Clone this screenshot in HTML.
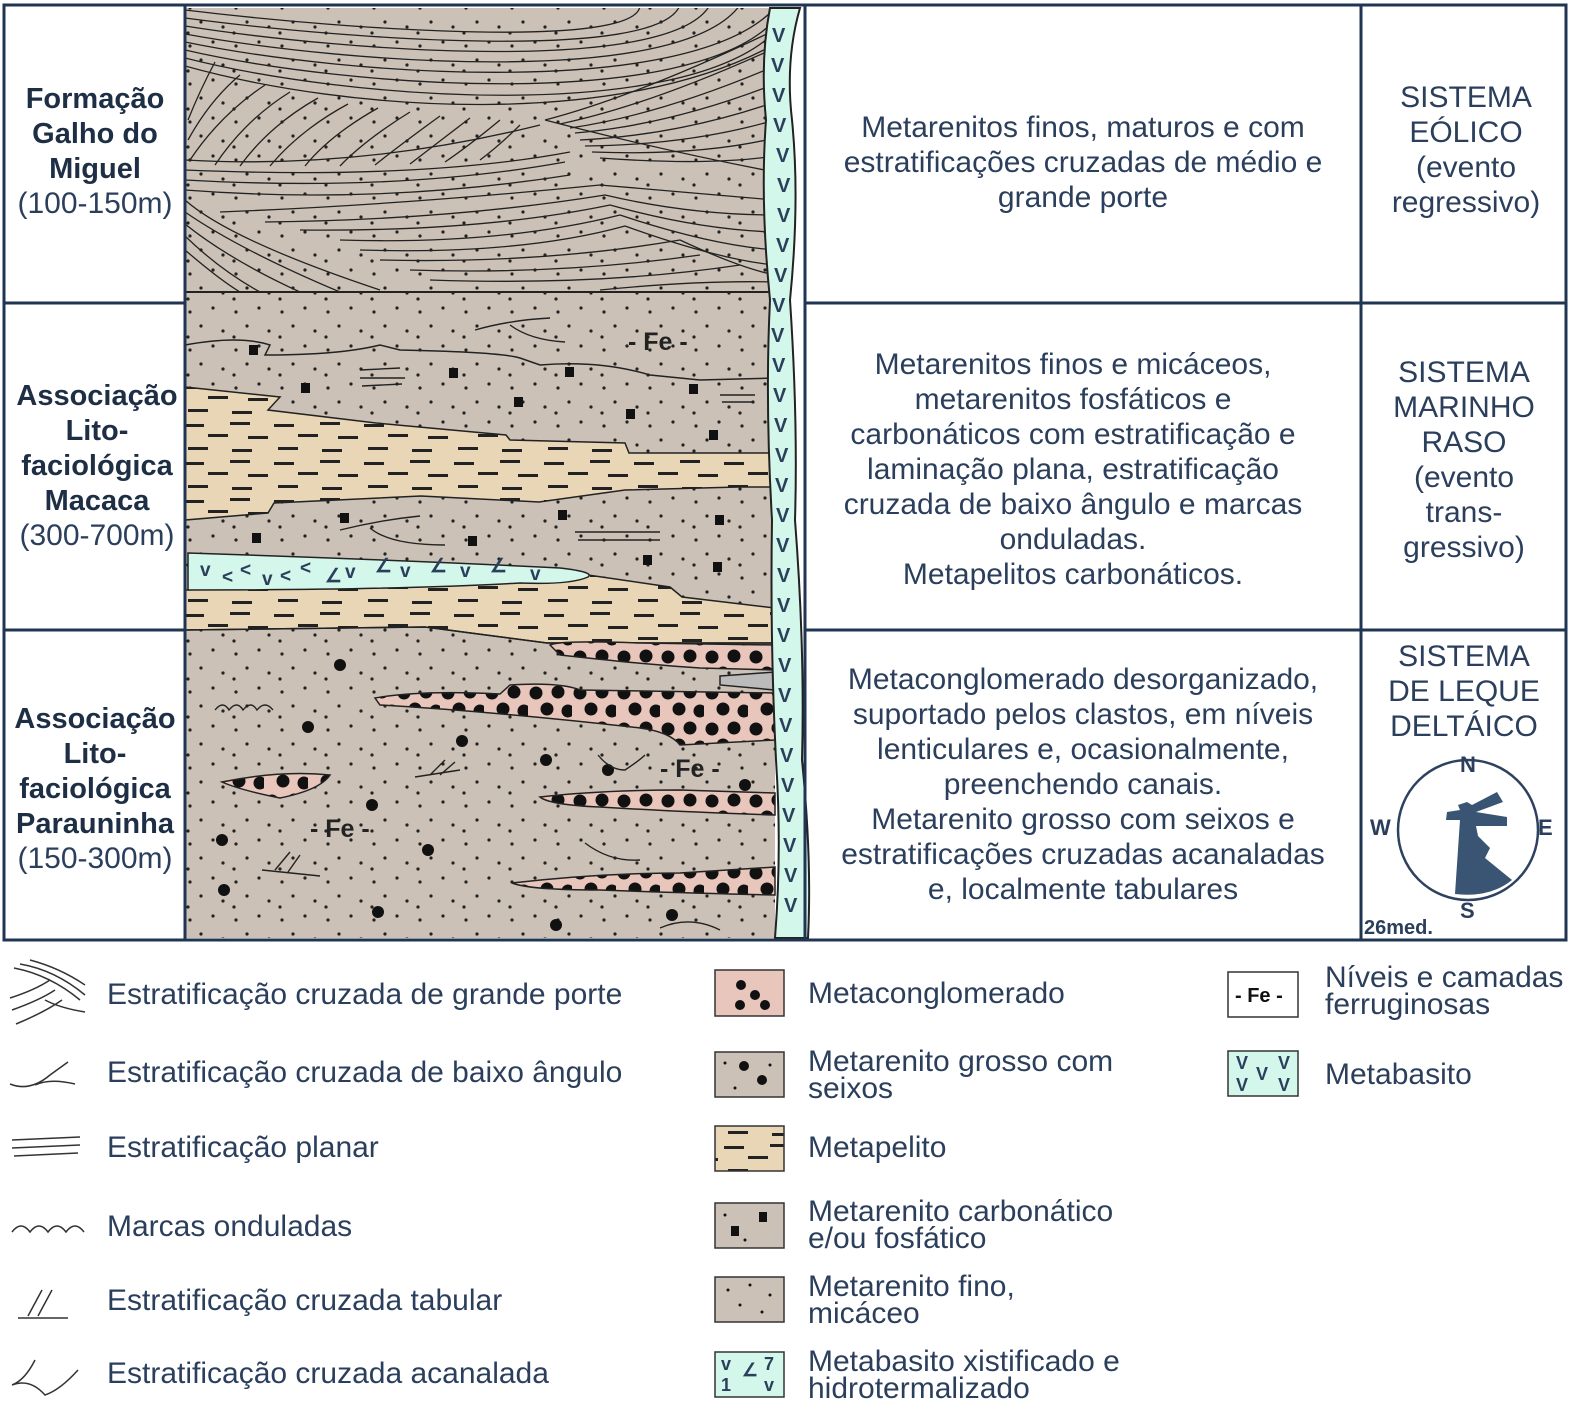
<!DOCTYPE html>
<html><head><meta charset="utf-8"><style>
html,body{margin:0;padding:0;background:#fff;}
svg{display:block;}
text{font-family:"Liberation Sans",Arial,sans-serif;fill:#2b3f5c;}
.b{font-weight:bold;fill:#1e2f45;}
</style></head><body>
<svg width="1573" height="1419" viewBox="0 0 1573 1419" xmlns="http://www.w3.org/2000/svg">
<defs>
<pattern id="sand" width="46" height="38" patternUnits="userSpaceOnUse">
<rect width="46" height="38" fill="#cbc1b6"/>
<circle cx="6" cy="8" r="1.6" fill="#222"/><circle cx="29" cy="4" r="1.6" fill="#222"/><circle cx="17" cy="22" r="1.6" fill="#222"/><circle cx="39" cy="27" r="1.6" fill="#222"/><circle cx="4" cy="33" r="1.6" fill="#222"/>
</pattern>
<pattern id="pel" width="90" height="38" patternUnits="userSpaceOnUse">
<rect width="90" height="38" fill="#e9d6b7"/>
<rect x="4" y="6" width="20" height="3" fill="#222"/><rect x="50" y="4" width="20" height="3" fill="#222"/><rect x="28" y="16" width="20" height="3" fill="#222"/><rect x="68" y="18" width="20" height="3" fill="#222"/><rect x="8" y="29" width="20" height="3" fill="#222"/><rect x="52" y="31" width="20" height="3" fill="#222"/>
</pattern>
<pattern id="cong" width="44" height="36" patternUnits="userSpaceOnUse">
<rect width="44" height="36" fill="#e9c6bb"/>
<circle cx="8" cy="9" r="6.5" fill="#111"/><circle cx="30" cy="8" r="6.5" fill="#111"/><circle cx="19" cy="25" r="6.5" fill="#111"/><circle cx="40" cy="27" r="6.5" fill="#111"/>
</pattern>
<clipPath id="topclip"><rect x="185" y="8" width="590" height="284"/></clipPath>
</defs>

<!-- top section cross-bedding -->
<rect x="185" y="8" width="590" height="284" fill="url(#sand)"/>
<g fill="none" stroke="#222" stroke-width="1.3" clip-path="url(#topclip)">
<path d="M185 10 C350 30 640 50 640 5"/><path d="M185 18 C350 40 660 62 680 5"/><path d="M185 26 C350 52 670 75 710 5"/><path d="M185 34 C350 64 680 88 740 5"/><path d="M185 42 C350 76 690 100 775 8"/><path d="M185 50 C350 88 690 112 775 20"/><path d="M185 58 C350 100 680 124 775 32"/><path d="M185 66 C350 112 620 130 775 44"/>
<path d="M188 120 Q200 90 215 62"/><path d="M188 140 Q210 100 240 75"/><path d="M190 160 Q220 115 265 85"/><path d="M215 165 Q245 120 290 92"/><path d="M240 166 Q270 125 318 98"/><path d="M270 166 Q300 130 348 104"/><path d="M305 166 Q330 135 378 108"/><path d="M340 166 Q365 140 410 112"/><path d="M375 165 Q400 145 440 116"/><path d="M410 164 Q435 145 470 118"/><path d="M445 162 Q470 145 500 120"/><path d="M480 160 Q500 145 520 125"/>
<path d="M185 160 Q360 170 540 125"/>
<path d="M545 120 Q640 95 775 30"/><path d="M560 124 Q650 105 775 48"/><path d="M570 128 Q660 115 775 66"/><path d="M575 133 Q670 125 775 84"/><path d="M580 140 Q680 135 775 102"/><path d="M585 146 Q690 145 775 120"/><path d="M592 152 Q700 156 775 138"/><path d="M600 158 Q710 166 775 156"/><path d="M545 120 Q660 150 775 172"/>
<path d="M185 170 Q420 180 570 152"/><path d="M185 180 Q400 192 565 162"/><path d="M185 190 Q380 205 570 175"/>
<path d="M185 200 Q230 240 380 290"/><path d="M185 212 Q240 250 340 292"/><path d="M185 224 Q230 260 300 292"/><path d="M185 236 Q220 270 260 292"/><path d="M185 250 Q220 280 240 292"/>
<path d="M220 212 Q400 205 600 185 L775 200"/><path d="M265 222 Q450 220 605 195 Q690 215 775 215"/><path d="M300 230 Q480 232 610 205 Q700 230 775 232"/><path d="M340 240 Q500 245 620 215 Q710 245 775 250"/><path d="M360 250 Q520 255 625 226 Q720 260 775 265"/><path d="M380 260 Q540 264 680 240 Q740 268 775 275"/><path d="M410 270 Q560 275 700 255"/><path d="M430 280 Q600 286 740 265"/><path d="M600 290 Q700 280 775 282"/>
</g>
<line x1="185" y1="292" x2="775" y2="292" stroke="#222" stroke-width="2"/>

<!-- bottom section base -->
<rect x="185" y="625" width="590" height="313" fill="url(#sand)"/>
<!-- middle section -->
<rect x="185" y="293" width="590" height="345" fill="url(#sand)"/>
<path d="M185 387 L280 397 L268 410 L376 423 L506 435 L510 440 L625 443 L629 453 L775 453 L775 487 L739 487 L625 490 L539 502 L421 496 L274 503 L268 513 L185 520 Z" fill="url(#pel)" stroke="#222" stroke-width="1.5"/>
<path d="M185 590 L425 583 L588 575 L670 587 L682 597 L775 608 L775 643 L547 643 L425 627 L185 630 Z" fill="url(#pel)" stroke="#222" stroke-width="1.5"/>
<path d="M188 553 Q400 560 560 568 Q595 572 588 577 Q570 585 520 583 Q400 590 188 590 Z" fill="#d3f7ea" stroke="#222" stroke-width="1.5"/>
<g font-size="19" font-weight="bold" style="fill:#111"><text x="200" y="576">v</text><text x="222" y="583">&lt;</text><text x="240" y="576">&lt;</text><text x="262" y="585">v</text><text x="280" y="582">&lt;</text><text x="300" y="574">&lt;</text><text x="325" y="582">∠</text><text x="345" y="578">v</text><text x="375" y="572">∠</text><text x="400" y="577">v</text><text x="430" y="572">∠</text><text x="460" y="577">v</text><text x="490" y="572">∠</text><text x="530" y="580">v</text></g>
<path d="M185 345 Q240 335 270 345 L265 355 Q340 355 380 345 L400 350 Q500 352 520 358 L540 365 Q600 360 650 375 L700 380 L775 378" fill="none" stroke="#222" stroke-width="1.5"/>
<g fill="#111"><rect x="249" y="345" width="9" height="10"/><rect x="301" y="383" width="9" height="10"/><rect x="449" y="368" width="9" height="10"/><rect x="565" y="367" width="9" height="10"/><rect x="689" y="384" width="9" height="10"/><rect x="514" y="397" width="9" height="10"/><rect x="626" y="409" width="9" height="10"/><rect x="709" y="430" width="9" height="10"/><rect x="340" y="513" width="9" height="10"/><rect x="558" y="510" width="9" height="10"/><rect x="715" y="515" width="9" height="10"/><rect x="252" y="533" width="9" height="10"/><rect x="468" y="536" width="9" height="10"/><rect x="643" y="555" width="9" height="10"/><rect x="713" y="562" width="9" height="10"/></g>
<g fill="none" stroke="#222" stroke-width="1.4"><path d="M360 370 L400 368 M360 378 L405 378 M362 386 L402 384"/><path d="M720 395 L755 395 M722 402 L752 402"/><path d="M575 532 L660 532 M578 540 L660 540"/><path d="M340 530 Q380 520 420 516 M370 528 Q390 545 445 545"/><path d="M475 330 Q510 320 550 318 M510 325 Q530 340 565 342"/></g>
<text x="628" y="350" font-size="25" font-weight="bold" style="fill:#222">- Fe -</text>

<!-- bottom section -->
<path d="M185 630 L425 627 L547 643 L775 643" fill="none" stroke="#222" stroke-width="1.5"/>
<g stroke="#222" stroke-width="1.5">
<path d="M550 645 Q560 640 640 643 L775 645 L775 670 L700 668 Q650 665 560 655 Z" fill="url(#cong)"/>
<path d="M720 676 L775 672 L775 690 L720 685 Z" fill="#bbb"/>
<path d="M375 698 Q420 690 500 694 L510 685 Q560 682 580 690 L775 693 L775 740 L680 745 Q670 732 640 728 Q500 712 380 705 Z" fill="url(#cong)"/>
<path d="M222 782 Q280 770 330 775 Q320 790 280 798 Q240 790 222 782 Z" fill="url(#cong)"/>
<path d="M540 797 Q600 790 680 790 L775 793 L775 815 Q680 812 600 807 Q550 805 540 797 Z" fill="url(#cong)"/>
<path d="M512 883 Q600 873 680 873 L775 867 L775 895 Q680 893 600 890 Q530 890 512 883 Z" fill="url(#cong)"/>
</g>
<g fill="#111"><circle cx="340" cy="665" r="6"/><circle cx="308" cy="727" r="6"/><circle cx="462" cy="741" r="6"/><circle cx="546" cy="760" r="6"/><circle cx="372" cy="805" r="6"/><circle cx="222" cy="840" r="6"/><circle cx="428" cy="850" r="6"/><circle cx="224" cy="890" r="6"/><circle cx="378" cy="912" r="6"/><circle cx="556" cy="925" r="6"/><circle cx="672" cy="915" r="6"/><circle cx="608" cy="770" r="6"/><circle cx="745" cy="785" r="6"/></g>
<g fill="none" stroke="#222" stroke-width="1.4"><path d="M215 710 q8 -10 14 0 q8 -10 14 0 q8 -10 14 0 q8 -10 16 0"/><path d="M415 777 L460 770 M430 775 L445 760 M440 775 L455 762"/><path d="M262 870 L320 876 M275 870 L290 852 M288 872 L300 855"/><path d="M598 755 Q610 770 625 770 Q640 760 645 755"/><path d="M585 843 Q610 862 640 860"/><path d="M660 928 Q690 915 720 930"/></g>
<text x="310" y="837" font-size="25" font-weight="bold" style="fill:#222">- Fe -</text>
<text x="660" y="777" font-size="25" font-weight="bold" style="fill:#222">- Fe -</text>

<!-- metabasite strip -->
<path d="M770 8 L800 8 Q785 60 792 120 Q800 200 790 300 Q798 420 795 520 Q805 650 802 760 Q812 860 808 938 L775 938 Q782 850 776 760 Q770 640 772 520 Q765 400 770 300 Q760 200 766 120 Q760 60 770 8 Z" fill="#d3f7ea" stroke="#222" stroke-width="2"/>
<g font-size="20" font-weight="bold" style="fill:#111">
<text x="772" y="42">V</text><text x="771" y="72">V</text><text x="772" y="102">V</text><text x="773" y="132">V</text><text x="776" y="162">V</text><text x="777" y="192">V</text><text x="777" y="222">V</text><text x="776" y="252">V</text><text x="774" y="282">V</text><text x="772" y="312">V</text><text x="771" y="342">V</text><text x="772" y="372">V</text><text x="773" y="402">V</text><text x="774" y="432">V</text><text x="775" y="462">V</text><text x="775" y="492">V</text><text x="776" y="522">V</text><text x="776" y="552">V</text><text x="777" y="582">V</text><text x="777" y="612">V</text><text x="777" y="642">V</text><text x="778" y="672">V</text><text x="778" y="702">V</text><text x="779" y="732">V</text><text x="780" y="762">V</text><text x="781" y="792">V</text><text x="782" y="822">V</text><text x="783" y="852">V</text><text x="784" y="882">V</text><text x="784" y="912">V</text>
</g>

<!-- grid -->
<g stroke="#1f3552" stroke-width="3" fill="none">
<rect x="4" y="5" width="1562" height="935"/>
<line x1="185" y1="5" x2="185" y2="940"/>
<line x1="805" y1="5" x2="805" y2="940"/>
<line x1="1361" y1="5" x2="1361" y2="940"/>
<line x1="4" y1="303" x2="185" y2="303"/><line x1="805" y1="303" x2="1566" y2="303"/>
<line x1="4" y1="630" x2="185" y2="630"/><line x1="805" y1="630" x2="1566" y2="630"/>
</g>

<!-- left labels -->
<g font-size="29" text-anchor="middle">
<text x="95" y="108" class="b">Formação</text><text x="95" y="143" class="b">Galho do</text><text x="95" y="178" class="b">Miguel</text><text x="95" y="213" font-size="30">(100-150m)</text>
<text x="97" y="405" class="b">Associação</text><text x="97" y="440" class="b">Lito-</text><text x="97" y="475" class="b">faciológica</text><text x="97" y="510" class="b">Macaca</text><text x="97" y="545" font-size="30">(300-700m)</text>
<text x="95" y="728" class="b">Associação</text><text x="95" y="763" class="b">Lito-</text><text x="95" y="798" class="b">faciológica</text><text x="95" y="833" class="b">Parauninha</text><text x="95" y="868" font-size="30">(150-300m)</text>
</g>
<!-- description -->
<g font-size="30" text-anchor="middle">
<text x="1083" y="137">Metarenitos finos, maturos e com</text><text x="1083" y="172">estratificações cruzadas de médio e</text><text x="1083" y="207">grande porte</text>
<text x="1073" y="374">Metarenitos  finos e micáceos,</text><text x="1073" y="409">metarenitos fosfáticos e</text><text x="1073" y="444">carbonáticos com estratificação e</text><text x="1073" y="479">laminação plana, estratificação</text><text x="1073" y="514">cruzada de baixo ângulo e marcas</text><text x="1073" y="549">onduladas.</text><text x="1073" y="584">Metapelitos carbonáticos.</text>
<text x="1083" y="689">Metaconglomerado desorganizado,</text><text x="1083" y="724">suportado pelos clastos, em níveis</text><text x="1083" y="759">lenticulares e, ocasionalmente,</text><text x="1083" y="794">preenchendo canais.</text><text x="1083" y="829">Metarenito grosso com seixos e</text><text x="1083" y="864">estratificações cruzadas acanaladas</text><text x="1083" y="899">e, localmente tabulares</text>
</g>
<g font-size="30" text-anchor="middle">
<text x="1466" y="107">SISTEMA</text><text x="1466" y="142">EÓLICO</text><text x="1466" y="177">(evento</text><text x="1466" y="212">regressivo)</text>
<text x="1464" y="382">SISTEMA</text><text x="1464" y="417">MARINHO</text><text x="1464" y="452">RASO</text><text x="1464" y="487">(evento</text><text x="1464" y="522">trans-</text><text x="1464" y="557">gressivo)</text>
<text x="1464" y="666">SISTEMA</text><text x="1464" y="701">DE LEQUE</text><text x="1464" y="736">DELTÁICO</text>
</g>
<!-- rose -->
<circle cx="1468" cy="830" r="70" fill="#fff" stroke="#2e4260" stroke-width="2.5"/>
<path d="M1455 894 L1460 820 L1446 820 L1447 812 L1460 810 L1458 805 L1467 802 L1472 805 L1497 792 L1503 802 L1476 812 L1507 817 L1507 826 L1476 826 L1478 836 L1490 848 L1485 858 L1512 880 Q1490 898 1455 894 Z" fill="#3a5573"/>
<g font-size="22" font-weight="bold"><text x="1460" y="772">N</text><text x="1370" y="835">W</text><text x="1538" y="835">E</text><text x="1460" y="918">S</text><text x="1364" y="934" font-size="20">26med.</text></g>

<!-- legend left -->
<g fill="none" stroke="#333" stroke-width="1.5">
<path d="M14 968 Q50 975 80 1000 M20 964 Q55 970 85 995 M30 960 Q60 968 85 985"/><path d="M10 998 Q35 990 50 980 M12 1010 Q40 1000 55 990 M16 1024 Q45 1012 62 1000 M45 1000 Q60 1008 85 1012"/>
<path d="M10 1084 Q30 1092 50 1075 L68 1062 M35 1085 Q50 1078 75 1084"/>
<path d="M12 1140 L80 1137 M12 1148 L80 1145 M14 1156 L78 1153"/>
<path d="M12 1232 q9 -12 18 0 q9 -12 18 0 q9 -12 18 0 q9 -12 18 0"/>
<path d="M18 1318 L68 1318 M28 1316 L42 1290 M38 1316 L52 1290"/>
<path d="M35 1360 Q25 1380 12 1385 Q30 1378 45 1395 Q60 1390 78 1370"/>
</g>
<g font-size="30">
<text x="107" y="1004">Estratificação cruzada de grande porte</text>
<text x="107" y="1082">Estratificação cruzada de baixo ângulo</text>
<text x="107" y="1157">Estratificação planar</text>
<text x="107" y="1236">Marcas onduladas</text>
<text x="107" y="1310">Estratificação cruzada tabular</text>
<text x="107" y="1383">Estratificação cruzada acanalada</text>
</g>
<!-- legend middle -->
<g stroke="#333" stroke-width="1.5">
<rect x="715" y="970" width="69" height="46" fill="#e9c6bb"/>
<rect x="715" y="1052" width="69" height="45" fill="#cbc1b6"/>
<rect x="715" y="1126" width="69" height="45" fill="url(#pel)"/>
<rect x="715" y="1203" width="69" height="45" fill="#cbc1b6"/>
<rect x="715" y="1277" width="69" height="45" fill="#cbc1b6"/>
<rect x="715" y="1352" width="69" height="45" fill="#d3f7ea"/>
</g>
<g fill="#111"><circle cx="741" cy="985" r="5"/><circle cx="755" cy="995" r="5"/><circle cx="740" cy="1005" r="5"/><circle cx="765" cy="1005" r="5"/><circle cx="744" cy="1066" r="5"/><circle cx="762" cy="1080" r="5"/><rect x="759" y="1212" width="8" height="10"/><rect x="731" y="1226" width="8" height="10"/>
<circle cx="728" cy="1290" r="1.5"/><circle cx="750" cy="1285" r="1.5"/><circle cx="770" cy="1295" r="1.5"/><circle cx="740" cy="1305" r="1.5"/><circle cx="762" cy="1312" r="1.5"/><circle cx="725" cy="1063" r="1.5"/><circle cx="770" cy="1065" r="1.5"/><circle cx="735" cy="1088" r="1.5"/><circle cx="725" cy="1215" r="1.5"/><circle cx="745" cy="1240" r="1.5"/></g>
<g font-size="18" font-weight="bold" style="fill:#111"><text x="721" y="1370">v</text><text x="742" y="1376">∠</text><text x="764" y="1370">7</text><text x="721" y="1391">1</text><text x="764" y="1391">v</text></g>
<g font-size="30">
<text x="808" y="1003">Metaconglomerado</text>
<text x="808" y="1071">Metarenito grosso com</text><text x="808" y="1098">seixos</text>
<text x="808" y="1157">Metapelito</text>
<text x="808" y="1221">Metarenito carbonático</text><text x="808" y="1248">e/ou fosfático</text>
<text x="808" y="1296">Metarenito fino,</text><text x="808" y="1323">micáceo</text>
<text x="808" y="1371">Metabasito xistificado e</text><text x="808" y="1398">hidrotermalizado</text>
</g>
<!-- legend right -->
<rect x="1228" y="972" width="70" height="45" fill="#fff" stroke="#333" stroke-width="1.5"/>
<text x="1235" y="1002" font-size="20" font-weight="bold" style="fill:#111">- Fe -</text>
<rect x="1228" y="1051" width="70" height="45" fill="#d3f7ea" stroke="#333" stroke-width="1.5"/>
<g font-size="18" font-weight="bold" style="fill:#111"><text x="1236" y="1069">V</text><text x="1256" y="1080">V</text><text x="1278" y="1069">V</text><text x="1236" y="1091">V</text><text x="1278" y="1091">V</text></g>
<g font-size="30">
<text x="1325" y="987">Níveis e camadas</text><text x="1325" y="1014">ferruginosas</text>
<text x="1325" y="1084">Metabasito</text>
</g>
</svg>
</body></html>
